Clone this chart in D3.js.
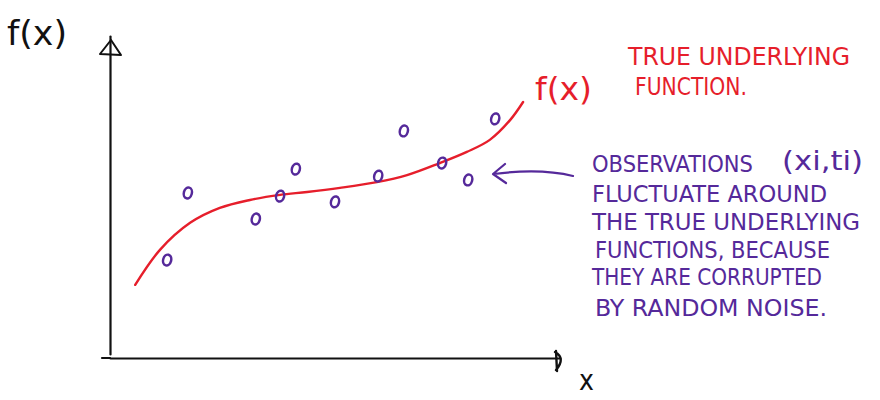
<!DOCTYPE html>
<html><head><meta charset="utf-8">
<script src="https://cdn.jsdelivr.net/npm/d3@7/dist/d3.min.js"></script>
<style>
html,body{margin:0;padding:0;background:#fff;}
svg text{font-family:"DejaVu Sans Condensed","Liberation Sans",sans-serif;}
</style></head>
<body>
<svg id="chart" width="880" height="400"></svg>
<script>
// ---- data (abstract units, 0..10 on both axes) ----
const curveX = [0.56, 1.11, 1.78, 2.44, 3.11, 3.78, 4.38, 5.11, 5.93, 6.6, 7.33, 7.93, 8.44, 8.89, 9.18];
const curveY = [2.30, 3.40, 4.25, 4.72, 4.97, 5.13, 5.22, 5.35, 5.53, 5.75, 6.13, 6.48, 6.86, 7.48, 8.05];
const obsX = [1.27, 1.73, 3.24, 3.78, 4.13, 5.0, 5.96, 6.53, 7.38, 7.96, 8.56];
const obsY = [3.08, 5.19, 4.37, 5.09, 5.94, 4.91, 5.72, 7.14, 6.13, 5.60, 7.52];
const yAxisLabel = "f(x)";
const xAxisLabel = "x";
const curveLabel = "f(x)";
const redNote = ["TRUE UNDERLYING", "FUNCTION."];
const purpleNote = ["OBSERVATIONS", "FLUCTUATE AROUND", "THE TRUE UNDERLYING", "FUNCTIONS, BECAUSE", "THEY ARE CORRUPTED", "BY RANDOM NOISE."];
const purpleNoteTail = "(xi,ti)";

const RED = "#e61e2b", PURPLE = "#55299a", INK = "#111";
const svg = d3.select("#chart");

const x = d3.scaleLinear().domain([0, 10]).range([110, 560]);
const y = d3.scaleLinear().domain([0, 10]).range([358, 40]);

// axes (no ticks)
const gx = svg.append("g").attr("transform", `translate(0,${y(0)})`)
  .call(d3.axisBottom(x).tickValues([]).tickSizeOuter(0));
const gy = svg.append("g").attr("transform", `translate(${x(0)},0)`)
  .call(d3.axisLeft(y).tickValues([]).tickSizeOuter(0));
[gx, gy].forEach(g => g.select(".domain").attr("stroke", INK).attr("stroke-width", 2.2).attr("stroke-linecap", "round"));
svg.append("line").attr("x1", x(0) - 8).attr("x2", x(0)).attr("y1", y(0)).attr("y2", y(0))
  .attr("stroke", INK).attr("stroke-width", 2.2).attr("stroke-linecap", "round");
gy.select(".domain").attr("transform", "translate(0,-4)");

// arrow heads
const yt = y(10), xt = x(10);
svg.append("path").attr("d", `M${x(0)-10},${yt+14} L${x(0)+1},${yt} L${x(0)+11},${yt+15} Z`)
  .attr("fill", "none").attr("stroke", INK).attr("stroke-width", 2).attr("stroke-linejoin", "round");
svg.append("path").attr("d", `M${xt-5},${y(0)-6} Q${xt+6},${y(0)} ${xt-4},${y(0)+12} M${xt-4},${y(0)-7} L${xt-3},${y(0)+13}`)
  .attr("fill", "none").attr("stroke", INK).attr("stroke-width", 2.4).attr("stroke-linecap", "round");

// true function curve
const line = d3.line().x(d => x(d[0])).y(d => y(d[1])).curve(d3.curveCatmullRom.alpha(0.5));
svg.append("path").datum(curveX.map((v, i) => [v, curveY[i]]))
  .attr("d", line).attr("fill", "none").attr("stroke", RED).attr("stroke-width", 2.4).attr("stroke-linecap", "round");

// observations
svg.selectAll("ellipse.obs").data(obsX.map((v, i) => [v, obsY[i]])).join("ellipse")
  .attr("class", "obs")
  .attr("cx", d => x(d[0])).attr("cy", d => y(d[1]))
  .attr("rx", 4).attr("ry", 5.5)
  .attr("transform", d => `rotate(15,${x(d[0])},${y(d[1])})`)
  .attr("fill", "none").attr("stroke", PURPLE).attr("stroke-width", 2.5);

// labels
svg.append("text").attr("x", 7).attr("y", 45).attr("font-size", 34).attr("fill", INK)
  .attr("textLength", 60).attr("lengthAdjust", "spacingAndGlyphs").text(yAxisLabel);
svg.append("text").attr("x", 579).attr("y", 390).attr("font-size", 28).attr("fill", INK).text(xAxisLabel);
svg.append("text").attr("x", 535).attr("y", 100).attr("font-size", 32).attr("fill", RED)
  .attr("textLength", 57).attr("lengthAdjust", "spacingAndGlyphs").text(curveLabel);

const redPos = [[628, 65, 222], [635, 95, 112]];
redNote.forEach((t, i) => svg.append("text").attr("x", redPos[i][0]).attr("y", redPos[i][1])
  .attr("font-size", 25).attr("fill", RED).attr("textLength", redPos[i][2]).attr("lengthAdjust", "spacingAndGlyphs").text(t));

const purPos = [[592, 172, 161], [592, 202, 235], [592, 230, 268], [595, 258, 235], [592, 285, 230], [595, 316, 232]];
purpleNote.forEach((t, i) => svg.append("text").attr("x", purPos[i][0]).attr("y", purPos[i][1])
  .attr("font-size", 23).attr("fill", PURPLE).attr("textLength", purPos[i][2]).attr("lengthAdjust", "spacingAndGlyphs").text(t));
svg.append("text").attr("x", 782).attr("y", 170).attr("font-size", 26).attr("fill", PURPLE)
  .attr("textLength", 81).attr("lengthAdjust", "spacingAndGlyphs").text(purpleNoteTail);

// pointer arrow
svg.append("path").attr("d", "M573,176 Q540,168 494,174 M505,164 L493,174 L506,183")
  .attr("fill", "none").attr("stroke", PURPLE).attr("stroke-width", 2.2).attr("stroke-linecap", "round").attr("stroke-linejoin", "round");
</script>
</body></html>
